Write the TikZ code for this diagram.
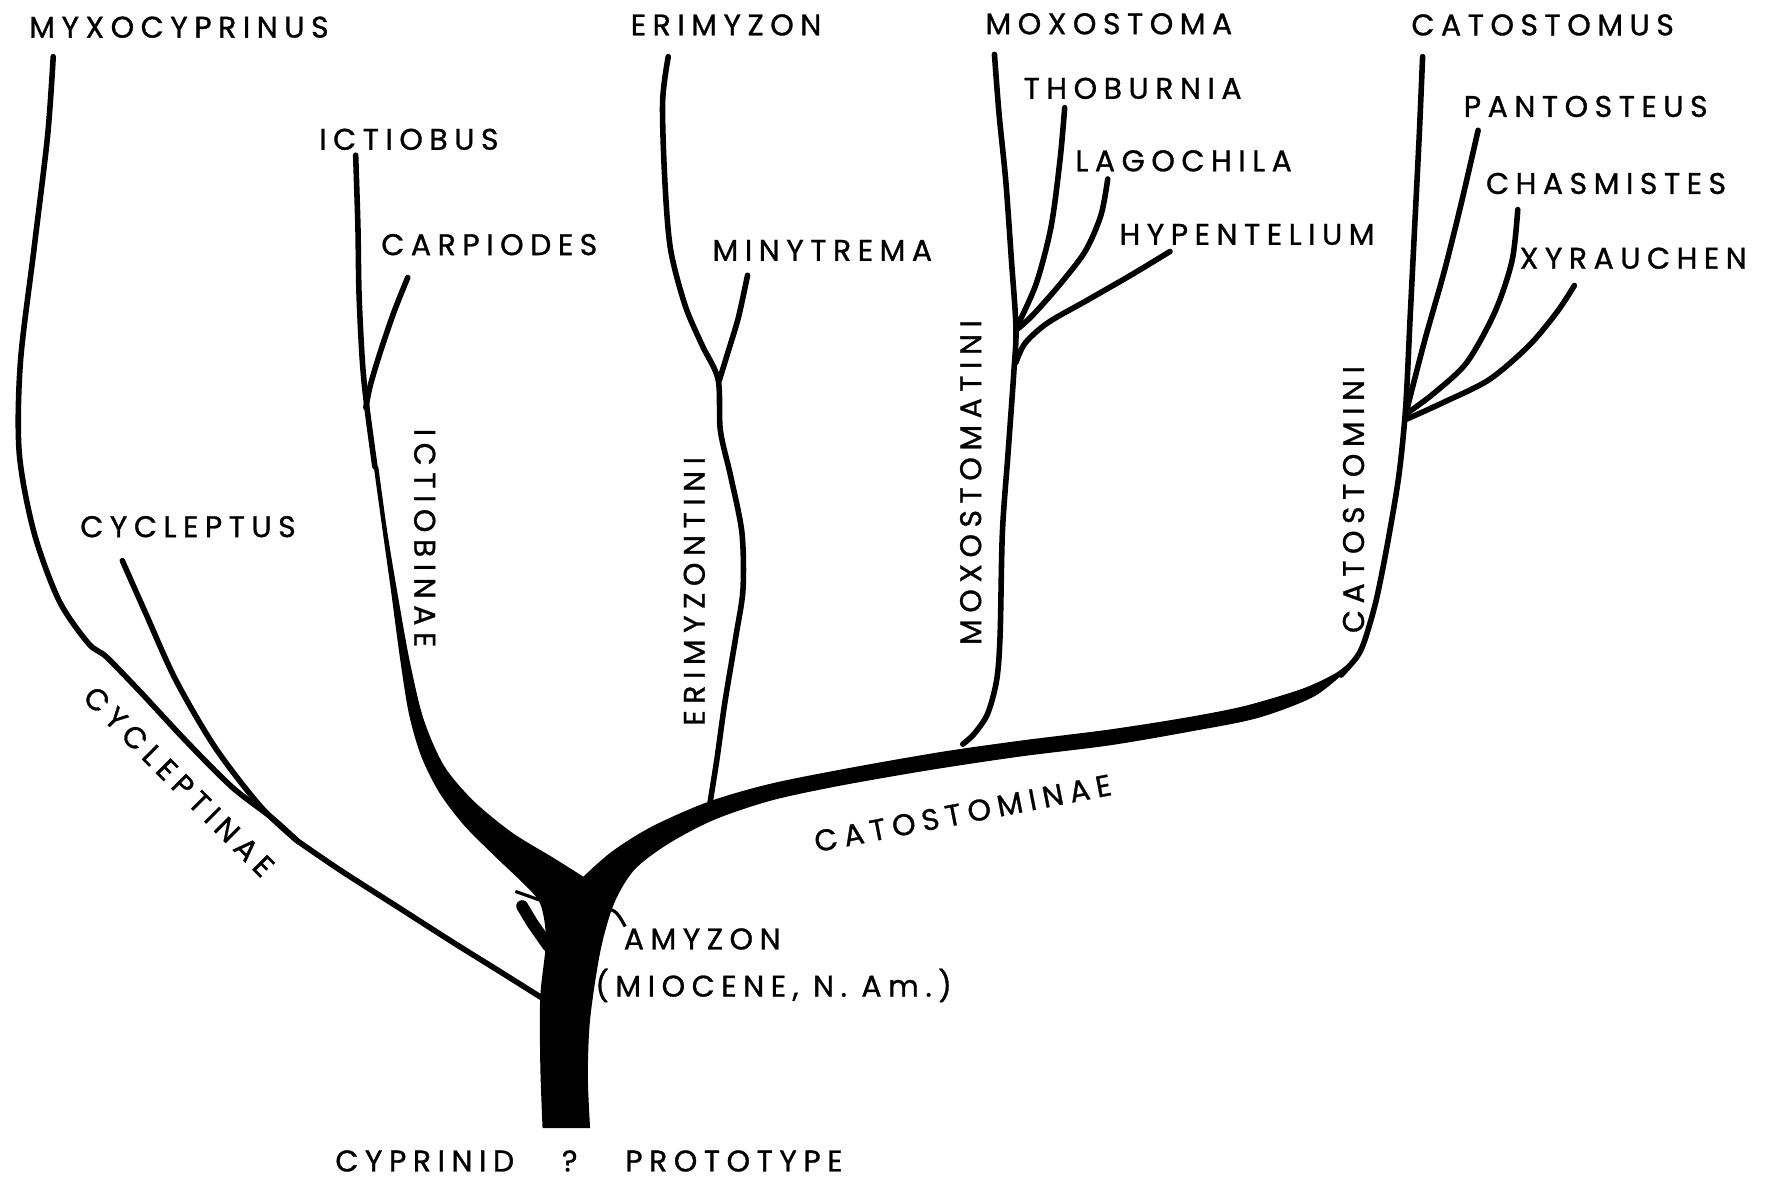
\documentclass[tikz,border=0pt]{standalone}
\usepackage{fontspec}
\usepackage{tikz}
\newfontfamily\taxfont[LetterSpace=22, FakeBold=1]{Poppins}

\begin{document}
\begin{tikzpicture}[x=0.1mm, y=-0.1mm,
    branch/.style={line width=1.4pt, line cap=round, line join=round},
    taxon/.style={font=\taxfont\fontsize{7.5}{8}\selectfont, inner sep=0pt}]
    \useasboundingbox (0,0) rectangle (1568,1043);

    % Genus labels
    \node[taxon] (myxo) at (158,24) {MYXOCYPRINUS};
    \node[taxon] (erim) at (641,22) {ERIMYZON};
    \node[taxon] (moxo) at (979,21) {MOXOSTOMA};
    \node[taxon] (cato) at (1362,22) {CATOSTOMUS};
    \node[taxon] (icti) at (361,123) {ICTIOBUS};
    \node[taxon] (carp) at (432,216) {CARPIODES};
    \node[taxon] (miny) at (726,221) {MINYTREMA};
    \node[taxon] (thob) at (1000,78) {THOBURNIA};
    \node[taxon] (lago) at (1045,142) {LAGOCHILA};
    \node[taxon] (hype) at (1101,207) {HYPENTELIUM};
    \node[taxon] (pant) at (1400,94) {PANTOSTEUS};
    \node[taxon] (chas) at (1418,162) {CHASMISTES};
    \node[taxon] (xyra) at (1442,228) {XYRAUCHEN};
    \node[taxon] (cycl) at (166,465) {CYCLEPTUS};

    % Group labels
    \node[taxon, rotate=-45] (cyclinae) at (158,690) {CYCLEPTINAE};
    \node[taxon, rotate=-90] (ictinae) at (375,475) {ICTIOBINAE};
    \node[taxon, rotate=90] (erimini) at (613,522) {ERIMYZONTINI};
    \node[taxon, rotate=90] (moxoini) at (857,426) {MOXOSTOMATINI};
    \node[taxon, rotate=90] (catoini) at (1195,441) {CATOSTOMINI};
    \node[taxon, rotate=11] (catoinae) at (850,718) {CATOSTOMINAE};
    \node[taxon] (amyz) at (620,829) {AMYZON};
    \node[taxon] (mioc) at (683,870) {(MIOCENE, N. Am.)};
    \node[taxon] (proto) at (520,1025) {CYPRINID\hspace{1.6em}?\hspace{1.6em}PROTOTYPE};

    % Trunk with Ictiobinae and Catostominae limbs
    \fill plot[smooth, tension=0.5] coordinates {(479,996) (477,940) (477,880) (482,830) (477,798) (462,780) (438,757) (410,729) (388,700) (372,668) (361,630) (353,580) (345,520) (338,470) (330,412)}
      -- plot[smooth, tension=0.5] coordinates {(334,412) (342,470) (352,530) (362,585) (374,635) (392,676) (418,707) (452,735) (488,757) (515,774)}
      -- plot[smooth, tension=0.5] coordinates {(515,774) (540,752) (575,730) (625,708) (680,692) (750,678) (830,664) (900,654) (980,644) (1050,633) (1100,623) (1150,608) (1178,595) (1190,586)}
      -- plot[smooth, tension=0.5] coordinates {(1190,591) (1160,615) (1110,634) (1050,646) (980,658) (900,668) (820,680) (740,694) (680,707) (630,724) (590,745) (560,768) (542,798) (530,840) (521,900) (519,950) (521,996)}
      -- cycle;

    % Cycleptinae
    \draw[branch] plot[smooth] coordinates {(47,50) (42,120) (30,220) (18,320) (17,400) (30,470) (52,530) (78,568) (94,580) (125,612) (165,655) (205,695) (240,722) (262,742)};
    \draw[branch] plot[smooth] coordinates {(108,495) (128,540) (155,600) (190,660) (230,712) (262,742)};
    \draw[branch] plot[smooth] coordinates {(262,742) (300,768) (350,800) (400,832) (445,860) (480,882)};

    % Ictiobinae
    \draw[branch] plot[smooth] coordinates {(314,137) (316,200) (317,260) (320,320) (324,360) (331,412)};
    \draw[branch] plot[smooth] coordinates {(360,245) (348,275) (336,310) (327,340) (323,360)};

    % Erimyzontini
    \draw[branch] plot[smooth] coordinates {(590,50) (585,90) (587,160) (592,220) (605,270) (620,305) (634,335) (636,380) (645,420) (655,470) (656,520) (650,560) (640,620) (633,670) (627,708)};
    \draw[branch] plot[smooth] coordinates {(660,243) (652,280) (643,310) (635,336)};

    % Moxostomatini
    \draw[branch] plot[smooth] coordinates {(878,48) (882,100) (888,160) (893,230) (897,290) (895,330) (890,400) (885,470) (883,560) (880,600) (872,630) (860,648) (850,657)};
    \draw[branch] plot[smooth] coordinates {(940,95) (936,140) (928,200) (915,250) (899,286)};
    \draw[branch] plot[smooth] coordinates {(978,158) (972,190) (958,222) (935,252) (912,278) (899,290)};
    \draw[branch] plot[smooth] coordinates {(1033,222) (1000,242) (960,265) (925,285) (905,303) (897,320)};

    % Catostomini
    \draw[branch] plot[smooth] coordinates {(1256,50) (1253,120) (1249,200) (1245,280) (1241,360) (1235,420) (1225,480) (1215,530) (1205,565) (1198,580) (1184,596)};
    \draw[branch] plot[smooth] coordinates {(1305,115) (1290,180) (1275,240) (1258,300) (1242,362)};
    \draw[branch] plot[smooth] coordinates {(1340,185) (1335,230) (1320,275) (1295,320) (1265,348) (1242,365)};
    \draw[branch] plot[smooth] coordinates {(1390,252) (1375,275) (1350,305) (1315,335) (1275,355) (1242,370)};

    % Amyzon stub and pointer
    \draw[branch, line width=3pt] (484,835) -- (470,815) -- (461,800);
    \draw[line width=0.8pt] (455,787) -- (486,798);
    \draw[line width=0.8pt] (535,803) to[out=10, in=120] (552,818);
\end{tikzpicture}
\end{document}
